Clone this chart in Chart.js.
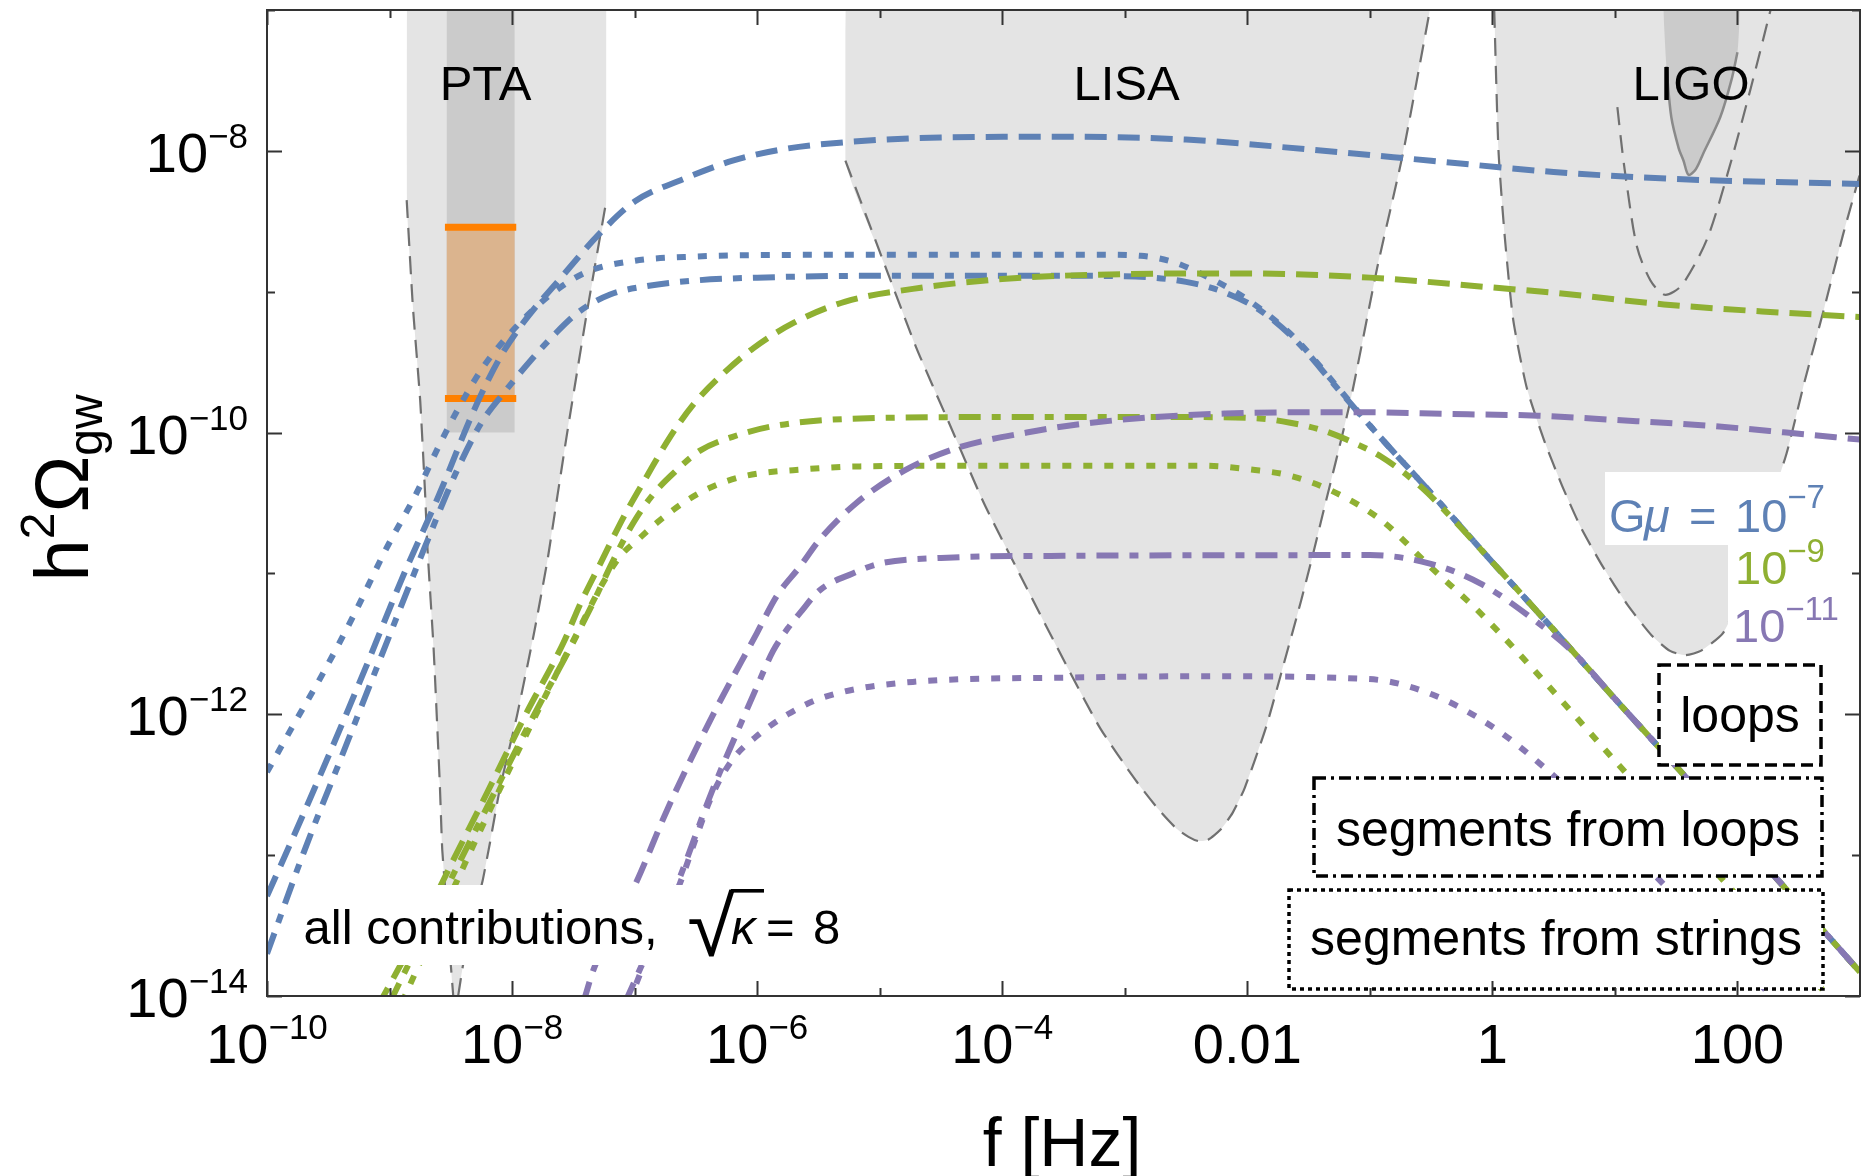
<!DOCTYPE html>
<html><head><meta charset="utf-8">
<script src="https://cdn.jsdelivr.net/npm/chart.js@4.4.1/dist/chart.umd.min.js"></script>
<style>html,body{margin:0;padding:0;background:#fff;}canvas{display:block;}</style>
</head><body>
<canvas id="c" width="1861" height="1176"></canvas>
<script>
// ---------- data (log10 f [Hz], log10 h^2 Omega_gw) ----------
const blueLoopsLogF = [-10,-9.8,-9.5,-9.2,-8.9,-8.6,-8.3,-8.1,-7.9,-7.6,-7.3,-7.0,-6.6,-6.2,-5.8,-5.3,-4.5,-3.5,-2.5,-1.5,-0.5,0.5,1.5,2.5,3];
const blueLoopsLogOmega = [-13.29,-12.9,-12.3,-11.68,-11.04,-10.45,-9.82,-9.47,-9.21,-8.9,-8.6,-8.36,-8.2,-8.07,-7.99,-7.94,-7.905,-7.9,-7.92,-7.99,-8.07,-8.15,-8.2,-8.225,-8.235];
const blueSegLoopsLogF = [-10,-9.7,-9.4,-9.1,-8.72,-8.45,-8.25,-8.05,-7.85,-7.65,-7.45,-7.2,-6.9,-6.5,-6.0,-5.0,-3.5,-3.0,-2.5,-2.2,-1.9,-1.6,-1.3,-1.0,-0.5,0,0.5,1,1.5,2,2.5,3];
const blueSegLoopsLogOmega = [-13.7,-12.98,-12.32,-11.66,-10.83,-10.27,-9.93,-9.7,-9.49,-9.3,-9.14,-9.02,-8.96,-8.92,-8.9,-8.887,-8.887,-8.89,-8.93,-9.0,-9.13,-9.35,-9.65,-9.95,-10.43,-10.92,-11.4,-11.89,-12.37,-12.86,-13.34,-13.83];
const blueSegStringsLogF = [-10,-9.8,-9.55,-9.3,-9.03,-8.78,-8.6,-8.42,-8.24,-8.02,-7.83,-7.64,-7.39,-7.0,-6.5,-6.0,-4.5,-3.2,-2.87,-2.6,-2.36,-2.1,-1.85,-1.6,-1.3,-1.0,-0.5,0,0.5,1,1.5,2,2.5,3];
const blueSegStringsLogOmega = [-12.41,-12.1,-11.72,-11.31,-10.83,-10.43,-10.1,-9.8,-9.54,-9.3,-9.13,-8.99,-8.86,-8.78,-8.75,-8.74,-8.737,-8.737,-8.745,-8.79,-8.88,-9.0,-9.15,-9.34,-9.64,-9.95,-10.43,-10.92,-11.4,-11.89,-12.37,-12.86,-13.34,-13.83];

const greenLoopsLogF = [-9.1,-8.8,-8.5,-8.2,-7.9,-7.58,-7.44,-7.28,-7.09,-6.9,-6.71,-6.52,-6.3,-6.03,-5.7,-5.28,-4.73,-4.0,-3.0,-2.0,-1.0,0.0,0.53,1.4,2.2,3.0];
const greenLoopsLogOmega = [-14.08,-13.6,-13.07,-12.55,-12.02,-11.49,-11.21,-10.93,-10.6,-10.31,-10.03,-9.8,-9.6,-9.4,-9.22,-9.07,-8.98,-8.91,-8.875,-8.87,-8.9,-8.97,-9.01,-9.09,-9.14,-9.18];
const greenSegLoopsLogF = [-9.0,-8.7,-8.4,-8.1,-7.8,-7.55,-7.34,-7.17,-7.01,-6.85,-6.66,-6.47,-6.2,-5.84,-5.16,-4.0,-2.5,-1.9,-1.65,-1.4,-1.19,-0.91,-0.59,-0.37,0,0.5,1,1.5,2,2.5,3];
const greenSegLoopsLogOmega = [-14.05,-13.52,-13.0,-12.48,-11.97,-11.57,-11.21,-10.9,-10.64,-10.44,-10.27,-10.13,-10.03,-9.95,-9.9,-9.89,-9.89,-9.9,-9.93,-9.98,-10.05,-10.17,-10.38,-10.57,-10.92,-11.4,-11.89,-12.37,-12.86,-13.34,-13.83];
const greenSegStringsLogF = [-8.9,-8.6,-8.3,-8.0,-7.7,-7.45,-7.26,-7.12,-6.96,-6.79,-6.57,-6.38,-6.11,-5.6,-5.16,-4.0,-2.38,-1.9,-1.68,-1.32,-0.91,-0.51,-0.10,0.365,1.0,1.5,2.0,2.5,3.0];
const greenSegStringsLogOmega = [-14.05,-13.47,-12.9,-12.35,-11.82,-11.39,-11.07,-10.88,-10.75,-10.62,-10.48,-10.39,-10.31,-10.26,-10.24,-10.235,-10.235,-10.27,-10.3,-10.41,-10.62,-10.95,-11.28,-11.71,-12.33,-12.81,-13.29,-13.77,-14.25];

const purpleLoopsLogF = [-7.42,-7.33,-7.15,-6.99,-6.73,-6.37,-6.0,-5.84,-5.65,-5.49,-5.19,-4.8,-4.37,-3.8,-3.27,-2.18,-1.2,-0.2,0.37,1.0,1.75,2.4,3.0];
const purpleLoopsLogOmega = [-14.05,-13.8,-13.48,-13.2,-12.67,-12.02,-11.42,-11.16,-10.95,-10.76,-10.5,-10.27,-10.11,-10.0,-9.93,-9.865,-9.855,-9.87,-9.88,-9.91,-9.95,-10.0,-10.05];
const purpleSegLoopsLogF = [-7.08,-6.9,-6.65,-6.37,-6.15,-6.01,-5.87,-5.75,-5.65,-5.49,-5.22,-5.0,-4.5,-3.5,-1.0,-0.51,-0.10,0.31,0.66,1,1.5,2,2.5,3];
const purpleSegLoopsLogOmega = [-14.05,-13.7,-13.2,-12.55,-12.1,-11.82,-11.55,-11.39,-11.28,-11.12,-11.0,-10.93,-10.89,-10.875,-10.87,-10.93,-11.07,-11.31,-11.56,-11.89,-12.37,-12.86,-13.34,-13.83];
const purpleSegStringsLogF = [-7.05,-6.85,-6.63,-6.5,-6.37,-6.2,-6.01,-5.75,-5.46,-4.73,-3.5,-2.38,-1.01,-0.49,0.02,0.44,1.0,1.5,2.0,2.5,3.0];
const purpleSegStringsLogOmega = [-14.05,-13.62,-13.2,-12.88,-12.58,-12.32,-12.16,-12.0,-11.88,-11.77,-11.74,-11.73,-11.75,-11.86,-12.1,-12.39,-12.85,-13.3,-13.75,-14.2,-14.65];

// detector regions
const ptaLogF = [-8.86,-8.86,-8.81,-8.75,-8.71,-8.69,-8.64,-8.59,-8.57,-8.54,-8.50,-8.48,-8.46,-8.44,-8.40,-8.33,-8.24,-8.18,-8.10,-7.96,-7.82,-7.71,-7.63,-7.55,-7.39,-7.23,-7.23];
const ptaLogOmega = [-7.0,-8.35,-9.1,-9.77,-10.43,-10.83,-11.54,-12.49,-12.96,-13.3,-13.78,-14.0,-14.1,-14.0,-13.78,-13.5,-13.18,-12.91,-12.53,-12.01,-11.42,-10.90,-10.45,-10.0,-9.15,-8.35,-7.0];
const ptaBandLogF = [-8.535,-8.535,-7.978,-7.978];
const ptaBandLogOmega = [-7.0,-10.0,-10.0,-7.0];
const ptaBoxLogF = [-8.535,-7.978];
const ptaBoxTopLogOmega = -8.543;
const ptaBoxBottomLogOmega = -9.758;
const ptaBarLogF = [-8.548,-7.966];

const lisaLogF = [-5.28,-5.28,-4.95,-4.7,-4.44,-4.15,-3.89,-3.46,-3.2,-2.91,-2.72,-2.58,-2.48,-2.40,-2.32,-2.22,-2.12,-2.02,-1.85,-1.73,-1.56,-1.46,-1.39,-1.16,-0.94,-0.73,-0.51];
const lisaLogOmega = [-7.0,-8.07,-8.83,-9.4,-9.92,-10.5,-10.95,-11.68,-12.1,-12.47,-12.68,-12.81,-12.87,-12.90,-12.89,-12.82,-12.7,-12.52,-12.1,-11.73,-11.19,-10.85,-10.6,-9.78,-8.83,-8.02,-7.0];

const ligoLogF = [0.015,0.05,0.10,0.17,0.28,0.42,0.57,0.72,0.9,1.1,1.3,1.45,1.574,1.7,1.885,2.05,2.2,2.40,2.55,2.71,2.86,3.01,3.35];
const ligoLogOmega = [-7.0,-8.0,-8.6,-9.2,-9.68,-10.05,-10.38,-10.67,-10.95,-11.22,-11.44,-11.55,-11.58,-11.55,-11.42,-11.1,-10.68,-10.15,-9.63,-9.11,-8.6,-8.13,-7.0];
const ligoInnerLogF = [1.02,1.06,1.10,1.18,1.29,1.40,1.48,1.56,1.75,1.92,2.11,2.27];
const ligoInnerLogOmega = [-7.69,-8.0,-8.26,-8.68,-8.92,-9.02,-9.0,-8.94,-8.63,-8.16,-7.55,-7.0];
const ligoDarkLogF = [1.395,1.42,1.46,1.52,1.56,1.60,1.66,1.72,1.86,1.95,2.0,2.02];
const ligoDarkLogOmega = [-7.0,-7.4,-7.76,-7.98,-8.07,-8.17,-8.13,-8.02,-7.76,-7.5,-7.3,-7.0];

// ticks
const xTickExps = [-10,-9,-8,-7,-6,-5,-4,-3,-2,-1,0,1,2,3];
const xLabelExps = [-10,-8,-6,-4,-2,0,2];
const xLabelBase = ['10','10','10','10','0.01','1','100'];
const xLabelSup = ['\u221210','\u22128','\u22126','\u22124','','',''];
const yTickExps = [-14,-13,-12,-11,-10,-9,-8,-7];
const yLabelExps = [-14,-12,-10,-8];
const yLabelBase = ['10','10','10','10'];
const yLabelSup = ['\u221214','\u221212','\u221210','\u22128'];

// ---------- styling ----------
const BLUE = '#5E81B5', GREEN = '#8FB032', PURPLE = '#8778B3';
const LIGHT = '#E4E4E4', DARK = '#CBCBCB', TAN = '#DBB48E', ORANGE = '#FF8000', DET = '#707070';
const DASHED = [22, 11], DASHDOT = [22, 11, 9, 11], DOTTED = [9, 12];
const FONT = "'Liberation Sans', Arial, sans-serif";

const toPts = (lf, lo) => lf.map((v, i) => ({x: Math.pow(10, v), y: Math.pow(10, lo[i])}));

function curve(lf, lo, color, dash, order) {
  return {data: toPts(lf, lo), borderColor: color, borderWidth: 6, borderDash: dash, borderCapStyle: 'butt',
    pointRadius: 0, pointHitRadius: 0, fill: false, cubicInterpolationMode: 'monotone', order, clip: 0};
}
function region(lf, lo, color, fill, order, tension) {
  return {data: toPts(lf, lo), borderColor: 'rgba(0,0,0,0)', borderWidth: 0, backgroundColor: color, fill,
    pointRadius: 0, pointHitRadius: 0, tension: tension || 0, order, clip: 0};
}
function edge(lf, lo, color, width, dash, order, tension) {
  return {data: toPts(lf, lo), borderColor: color, borderWidth: width, borderDash: dash, fill: false,
    pointRadius: 0, pointHitRadius: 0, tension: tension || 0, order, clip: 0};
}

const datasets = [
  region(ptaLogF, ptaLogOmega, LIGHT, 'end', 30, 0.15),
  region(lisaLogF, lisaLogOmega, LIGHT, 'end', 30, 0.2),
  region(ligoLogF, ligoLogOmega, LIGHT, 'end', 30, 0.2),
  region(ptaBandLogF, ptaBandLogOmega, DARK, 'end', 29, 0),
  {data: toPts(ptaBoxLogF, [ptaBoxTopLogOmega, ptaBoxTopLogOmega]), borderColor: 'rgba(0,0,0,0)', borderWidth: 0,
   backgroundColor: TAN, fill: {value: Math.pow(10, ptaBoxBottomLogOmega)}, pointRadius: 0, order: 28, clip: 0},
  edge(ptaBarLogF, [ptaBoxTopLogOmega, ptaBoxTopLogOmega], ORANGE, 7, [], 27),
  edge(ptaBarLogF, [ptaBoxBottomLogOmega, ptaBoxBottomLogOmega], ORANGE, 7, [], 27),
  region(ligoDarkLogF, ligoDarkLogOmega, DARK, 'end', 29, 0.25),
  edge(ligoDarkLogF.slice(1, 11), ligoDarkLogOmega.slice(1, 11), '#8A8A8A', 2.5, [], 26, 0.3),
  edge(ptaLogF.slice(1, 12), ptaLogOmega.slice(1, 12), DET, 2.2, [18, 10], 25, 0.15),
  edge(ptaLogF.slice(13, 26), ptaLogOmega.slice(13, 26), DET, 2.2, [18, 10], 25, 0.15),
  edge(lisaLogF.slice(1), lisaLogOmega.slice(1), DET, 2.2, [18, 10], 25, 0.2),
  edge(ligoLogF, ligoLogOmega, DET, 2.2, [18, 10], 25, 0.2),
  edge(ligoInnerLogF, ligoInnerLogOmega, DET, 2.2, [18, 10], 25, 0.3),
  curve(blueLoopsLogF, blueLoopsLogOmega, BLUE, DASHED, 3),
  curve(blueSegLoopsLogF, blueSegLoopsLogOmega, BLUE, DASHDOT, 3),
  curve(blueSegStringsLogF, blueSegStringsLogOmega, BLUE, DOTTED, 3),
  curve(greenLoopsLogF, greenLoopsLogOmega, GREEN, DASHED, 2),
  curve(greenSegLoopsLogF, greenSegLoopsLogOmega, GREEN, DASHDOT, 2),
  curve(greenSegStringsLogF, greenSegStringsLogOmega, GREEN, DOTTED, 2),
  curve(purpleLoopsLogF, purpleLoopsLogOmega, PURPLE, DASHED, 1),
  curve(purpleSegLoopsLogF, purpleSegLoopsLogOmega, PURPLE, DASHDOT, 1),
  curve(purpleSegStringsLogF, purpleSegStringsLogOmega, PURPLE, DOTTED, 1)
];

function powText(ctx, base, sup, x, y, align, fb, fs, raise) {
  ctx.font = fb; const wb = ctx.measureText(base).width;
  ctx.font = fs; const ws = sup ? ctx.measureText(sup).width : 0;
  const w = wb + ws;
  const x0 = align === 'center' ? x - w / 2 : (align === 'right' ? x - w : x);
  ctx.textAlign = 'left'; ctx.textBaseline = 'alphabetic';
  ctx.font = fb; ctx.fillText(base, x0, y);
  if (sup) { ctx.font = fs; ctx.fillText(sup, x0 + wb, y - raise); }
}

function box(ctx, x0, y0, x1, y1, dash) {
  ctx.save();
  ctx.fillStyle = '#fff'; ctx.fillRect(x0, y0, x1 - x0, y1 - y0);
  if (dash) {
    ctx.setLineDash(dash); ctx.lineWidth = 3.5; ctx.strokeStyle = '#000';
    ctx.strokeRect(x0, y0, x1 - x0, y1 - y0);
  }
  ctx.restore();
}

// radical sign fitted into a box (left, top, width, height) with an overbar to barEnd
function radical(ctx, left, top, width, height, barEnd) {
  ctx.save();
  ctx.fillStyle = '#000';
  ctx.font = '100px ' + FONT;
  const m = ctx.measureText('\u221A');
  const gh = m.actualBoundingBoxAscent + m.actualBoundingBoxDescent;
  const gw = m.actualBoundingBoxLeft + m.actualBoundingBoxRight;
  const sy = height / gh, sx = width / gw;
  ctx.translate(left, top);
  ctx.scale(sx, sy);
  ctx.textAlign = 'left'; ctx.textBaseline = 'alphabetic';
  ctx.fillText('\u221A', m.actualBoundingBoxLeft, m.actualBoundingBoxAscent);
  ctx.restore();
  ctx.save();
  ctx.fillStyle = '#000';
  ctx.fillRect(left + width - 4, top, barEnd - (left + width - 4), 3.6);
  ctx.restore();
}

const decor = {
  id: 'decor',
  afterDraw(chart) {
    const {ctx, chartArea: a, scales: {x, y}} = chart;
    const X = e => x.getPixelForValue(Math.pow(10, e));
    const Y = e => y.getPixelForValue(Math.pow(10, e));
    ctx.save();
    // white label backgrounds
    box(ctx, 295, 885, 862, 965);
    box(ctx, 1605, 472, 1842, 545);
    box(ctx, 1728, 545, 1842, 590);
    box(ctx, 1728, 590, 1846, 648);
    // region names
    ctx.fillStyle = '#000'; ctx.textAlign = 'center'; ctx.textBaseline = 'alphabetic';
    ctx.font = '49px ' + FONT;
    ctx.fillText('PTA', 485.5, 99.5);
    ctx.fillText('LISA', 1126.5, 100);
    ctx.fillText('LIGO', 1691, 100);
    // all contributions label
    ctx.textAlign = 'left';
    ctx.fillText('all contributions,', 303.6, 944);
    radical(ctx, 689, 889, 46, 68, 764);
    ctx.fillStyle = '#000';
    ctx.font = 'italic 49px ' + FONT;
    ctx.fillText('\u03BA', 731, 944);
    ctx.font = '49px ' + FONT;
    ctx.fillText('=', 766, 944);
    ctx.fillText('8', 813, 944);
    // G mu labels
    ctx.fillStyle = BLUE; ctx.font = '47px ' + FONT;
    ctx.fillText('G', 1609, 532);
    ctx.font = 'italic 47px ' + FONT; ctx.fillText('\u03BC', 1644, 532);
    ctx.font = '47px ' + FONT; ctx.fillText('=', 1689, 532);
    powText(ctx, '10', '\u22127', 1735, 532, 'left', '47px ' + FONT, '33px ' + FONT, 24);
    ctx.fillStyle = GREEN;
    powText(ctx, '10', '\u22129', 1735, 584, 'left', '47px ' + FONT, '33px ' + FONT, 22);
    ctx.fillStyle = PURPLE;
    powText(ctx, '10', '\u221211', 1733, 642, 'left', '47px ' + FONT, '33px ' + FONT, 22);
    // legend boxes
    box(ctx, 1659, 665, 1821, 765, [12, 6]);
    box(ctx, 1314, 778, 1822, 876, [12, 5, 3, 5]);
    box(ctx, 1289, 890, 1823, 989, [4, 4]);
    ctx.fillStyle = '#000'; ctx.textAlign = 'center'; ctx.font = '50px ' + FONT;
    ctx.fillText('loops', 1740, 732);
    ctx.fillText('segments from loops', 1568, 846);
    ctx.fillText('segments from strings', 1556, 955);
    // frame and ticks
    ctx.setLineDash([]);
    ctx.strokeStyle = '#333'; ctx.lineWidth = 2;
    ctx.strokeRect(a.left, a.top, a.right - a.left, a.bottom - a.top);
    ctx.beginPath();
    xTickExps.forEach(e => {
      const px = Math.round(X(e)) + 0.5, len = xLabelExps.includes(e) ? 15 : 8;
      ctx.moveTo(px, a.bottom); ctx.lineTo(px, a.bottom - len);
      ctx.moveTo(px, a.top); ctx.lineTo(px, a.top + len);
    });
    yTickExps.forEach(e => {
      const py = Math.round(Y(e)) + 0.5, len = yLabelExps.includes(e) ? 15 : 8;
      ctx.moveTo(a.left, py); ctx.lineTo(a.left + len, py);
      ctx.moveTo(a.right, py); ctx.lineTo(a.right - len, py);
    });
    ctx.stroke();
    // tick labels
    ctx.fillStyle = '#000';
    const fb = '56px ' + FONT, fs = '35px ' + FONT;
    xLabelExps.forEach((e, i) => powText(ctx, xLabelBase[i], xLabelSup[i], X(e), 1063, 'center', fb, fs, 24));
    yLabelExps.forEach((e, i) => powText(ctx, yLabelBase[i], yLabelSup[i], 248, Y(e) + 21, 'right', fb, fs, 24));
    // axis titles
    ctx.textAlign = 'center'; ctx.font = '68px ' + FONT;
    ctx.fillText('f [Hz]', 1062, 1166);
    ctx.save();
    ctx.translate(88, 488); ctx.rotate(-Math.PI / 2);
    const parts = [['h', '76px', 0], ['2', '48px', -34], ['\u03A9', '76px', 0], ['gw', '48px', 14]];
    let tw = 0; parts.forEach(p => { ctx.font = p[1] + ' ' + FONT; tw += ctx.measureText(p[0]).width; });
    let cx = -tw / 2; ctx.textAlign = 'left';
    parts.forEach(p => { ctx.font = p[1] + ' ' + FONT; ctx.fillText(p[0], cx, p[2]); cx += ctx.measureText(p[0]).width; });
    ctx.restore();
    ctx.restore();
  }
};

new Chart(document.getElementById('c'), {
  type: 'line',
  data: {datasets},
  options: {
    responsive: false, animation: false, devicePixelRatio: 1,
    layout: {padding: {top: 10, right: 1, left: 0, bottom: 0}},
    plugins: {legend: {display: false}, tooltip: {enabled: false}},
    events: [],
    scales: {
      x: {type: 'logarithmic', min: 1e-10, max: 1e3, grid: {display: false}, border: {display: false},
          ticks: {display: false}, afterFit: s => { s.height = 180; }},
      y: {type: 'logarithmic', min: 1e-14, max: 1e-7, grid: {display: false}, border: {display: false},
          ticks: {display: false}, afterFit: s => { s.width = 267; }}
    }
  },
  plugins: [decor]
});
</script>
</body></html>
